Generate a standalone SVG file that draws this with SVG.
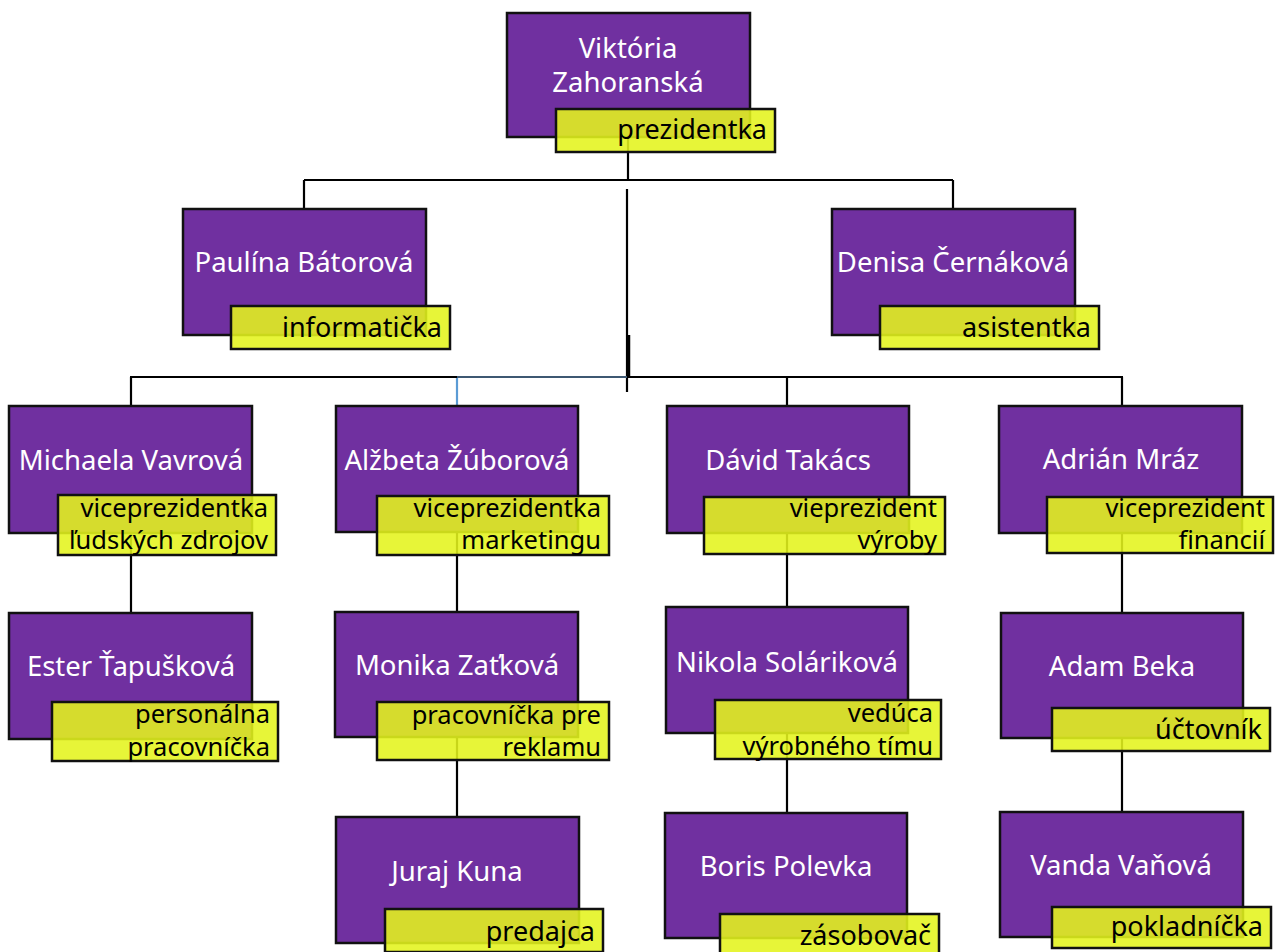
<svg xmlns="http://www.w3.org/2000/svg" width="1279" height="952" viewBox="0 0 1279 952">
<style>
.box{fill:#7030a0;stroke:#111;stroke-width:2.5}
.lab{fill:#e4f41c;fill-opacity:0.88;stroke:#111;stroke-width:2.5}
.name{font-family:"Noto Sans","Open Sans",sans-serif;font-size:27.5px;fill:#fff;text-anchor:middle}
.role{font-family:"Noto Sans","Open Sans",sans-serif;font-size:25.5px;fill:#000;text-anchor:end}
.big{font-size:27px}
.ln{stroke:#000;stroke-width:2.2;fill:none}
</style>
<rect width="1279" height="952" fill="#fff"/>
<g id="connectors">
<path class="ln" d="M628 137V180M304 180H953M304 180V209M953 180V209"/>
<path class="ln" d="M627 189V392"/>
<path d="M628.5 335V377" stroke="#000" stroke-width="3.5"/>
<path class="ln" d="M130 377H457M627 377H1123"/>
<path d="M457 377H627" stroke="#3d5872" stroke-width="2.2"/>
<path class="ln" d="M131 377V406M787 377V406M1122 377V406"/>
<path d="M457 378V406" stroke="#5b9bd5" stroke-width="2.2"/>
<path class="ln" d="M131 533V613M457 532V612M787 533V607M1122 533V613"/>
<path class="ln" d="M457 737V817M787 733V813M1122 738V812"/>
</g>
<g id="n-viktoria">
<rect class="box" x="507" y="13" width="243" height="124"/>
<rect class="lab" x="556" y="109" width="219" height="43"/>
<text class="name" x="628" y="58">Viktória</text>
<text class="name" x="628" y="92">Zahoranská</text>
<text class="role big" x="767" y="139">prezidentka</text>
</g>
<g id="n-paulina">
<rect class="box" x="183" y="209" width="243" height="126"/>
<rect class="lab" x="231" y="306" width="219" height="43"/>
<text class="name" x="304" y="272">Paulína Bátorová</text>
<text class="role big" x="442" y="337">informatička</text>
</g>
<g id="n-denisa">
<rect class="box" x="832" y="209" width="243" height="126"/>
<rect class="lab" x="880" y="306" width="219" height="43"/>
<text class="name" x="953" y="272">Denisa Černáková</text>
<text class="role big" x="1091" y="337">asistentka</text>
</g>
<g id="n-michaela">
<rect class="box" x="9" y="406" width="243" height="127"/>
<rect class="lab" x="58" y="495" width="218" height="60"/>
<text class="name" x="131" y="470">Michaela Vavrová</text>
<text class="role" x="268" y="517">viceprezidentka</text>
<text class="role" x="268" y="549">ľudských zdrojov</text>
</g>
<g id="n-alzbeta">
<rect class="box" x="336" y="406" width="242" height="126"/>
<rect class="lab" x="377" y="496" width="232" height="59"/>
<text class="name" x="457" y="470">Alžbeta Žúborová</text>
<text class="role" x="601" y="517">viceprezidentka</text>
<text class="role" x="601" y="549">marketingu</text>
</g>
<g id="n-david">
<rect class="box" x="667" y="406" width="242" height="127"/>
<rect class="lab" x="704" y="497" width="241" height="57"/>
<text class="name" x="788" y="470">Dávid Takács</text>
<text class="role" x="937" y="517">vieprezident</text>
<text class="role" x="937" y="549">výroby</text>
</g>
<g id="n-adrian">
<rect class="box" x="999" y="406" width="243" height="127"/>
<rect class="lab" x="1047" y="497" width="226" height="56"/>
<text class="name" x="1121" y="469">Adrián Mráz</text>
<text class="role" x="1265" y="517">viceprezident</text>
<text class="role" x="1265" y="549">financií</text>
</g>
<g id="n-ester">
<rect class="box" x="9" y="613" width="243" height="126"/>
<rect class="lab" x="52" y="702" width="226" height="59"/>
<text class="name" x="131" y="676">Ester Ťapušková</text>
<text class="role" x="270" y="723">personálna</text>
<text class="role" x="270" y="756">pracovníčka</text>
</g>
<g id="n-monika">
<rect class="box" x="335" y="612" width="243" height="125"/>
<rect class="lab" x="377" y="702" width="232" height="58"/>
<text class="name" x="457" y="675">Monika Zaťková</text>
<text class="role" x="601" y="724">pracovníčka pre</text>
<text class="role" x="601" y="756">reklamu</text>
</g>
<g id="n-nikola">
<rect class="box" x="666" y="607" width="242" height="126"/>
<rect class="lab" x="715" y="700" width="226" height="59"/>
<text class="name" x="787" y="672">Nikola Soláriková</text>
<text class="role" x="933" y="722">vedúca</text>
<text class="role" x="933" y="755">výrobného tímu</text>
</g>
<g id="n-adam">
<rect class="box" x="1001" y="613" width="242" height="125"/>
<rect class="lab" x="1052" y="708" width="218" height="43"/>
<text class="name" x="1122" y="676">Adam Beka</text>
<text class="role big" x="1262" y="739">účtovník</text>
</g>
<g id="n-juraj">
<rect class="box" x="336" y="817" width="243" height="126"/>
<rect class="lab" x="385" y="909" width="218" height="43"/>
<text class="name" x="457" y="881">Juraj Kuna</text>
<text class="role big" x="595" y="941">predajca</text>
</g>
<g id="n-boris">
<rect class="box" x="665" y="813" width="242" height="125"/>
<rect class="lab" x="720" y="914" width="219" height="43"/>
<text class="name" x="786" y="876">Boris Polevka</text>
<text class="role big" x="931" y="945">zásobovač</text>
</g>
<g id="n-vanda">
<rect class="box" x="1000" y="812" width="243" height="125"/>
<rect class="lab" x="1052" y="907" width="219" height="41"/>
<text class="name" x="1121" y="875">Vanda Vaňová</text>
<text class="role big" x="1263" y="936">pokladníčka</text>
</g>
</svg>
